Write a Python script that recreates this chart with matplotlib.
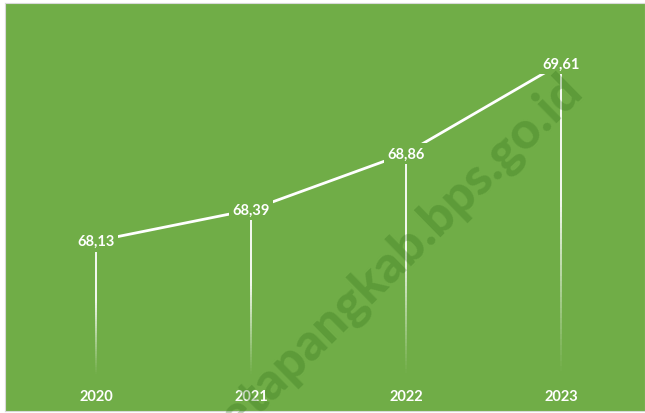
import numpy as np
import matplotlib
matplotlib.use("Agg")
import matplotlib.pyplot as plt
from matplotlib.collections import LineCollection

years = ["2020", "2021", "2022", "2023"]
values = [68.13, 68.39, 68.86, 69.61]
value_labels = ["68,13", "68,39", "68,86", "69,61"]

GREEN = "#70AD47"
AXIS_MIN = 67.0

plt.rcParams["font.family"] = ["Lato", "DejaVu Sans"]

fig = plt.figure(figsize=(6.45, 4.14), dpi=100, facecolor="white")
ax = fig.add_axes([5 / 645, 2 / 414, 640 / 645, 408 / 414])
ax.set_facecolor(GREEN)
for sp in ax.spines.values():
    sp.set_color("#D9D9D9")
    sp.set_linewidth(0.8)

x = np.arange(len(years))
ax.set_xlim(-0.587, 3.542)
ax.set_ylim(66.713, 70.113)
ax.set_xticks([])
ax.set_yticks([])

# drop lines fading toward the axis
for xi, v in zip(x, values):
    ys = np.linspace(AXIS_MIN, v, 60)
    segs = [[(xi, ys[i]), (xi, ys[i + 1])] for i in range(len(ys) - 1)]
    t = np.linspace(0, 1, len(segs))
    alphas = np.clip(t * 1.8, 0, 1) ** 1.1
    cols = [(1, 1, 1, a) for a in alphas]
    ax.add_collection(LineCollection(segs, colors=cols, linewidths=1.3, zorder=2))

ax.plot(x, values, color="white", lw=2.0, solid_capstyle="butt", zorder=3)

for xi, v, lab in zip(x, values, value_labels):
    ax.text(xi, v, lab, ha="center", va="center", color="white",
            fontsize=10.5, fontweight="bold", zorder=4,
            bbox=dict(boxstyle="square,pad=0.25", facecolor=GREEN, edgecolor="none"))

for xi, yr in zip(x, years):
    ax.text(xi, 66.835, yr, ha="center", va="center", color="white",
            fontsize=10.5, fontweight="bold", zorder=4)

# watermark overlay
fig.text(0.905, 0.775, "ketapangkab.bps.go.id", rotation=44.5,
         rotation_mode="anchor", ha="right", va="baseline",
         fontsize=37, fontweight="black", color=(0.2, 0.45, 0.1), alpha=0.3,
         zorder=5)

fig.savefig("out.png", dpi=100, facecolor="white")
